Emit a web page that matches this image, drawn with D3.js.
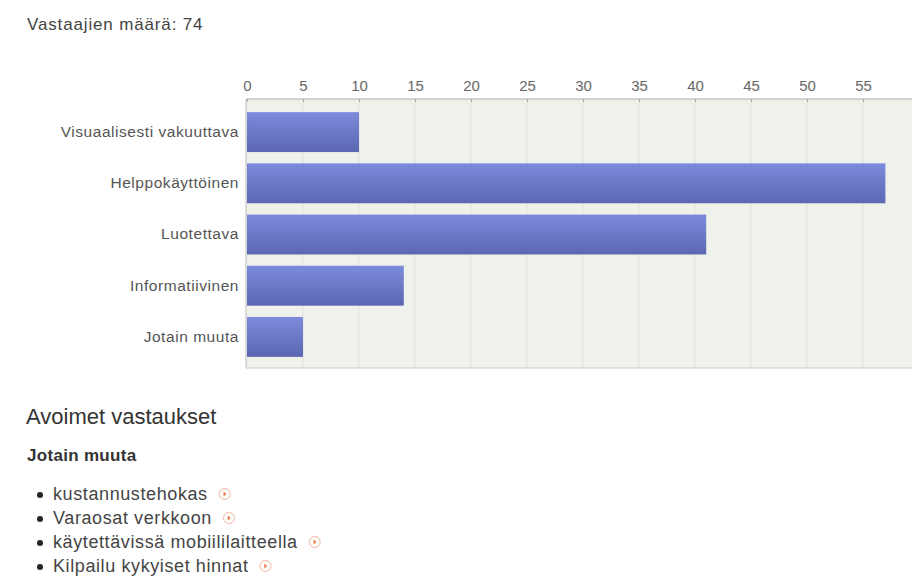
<!DOCTYPE html>
<html>
<head>
<meta charset="utf-8">
<script src="https://cdn.jsdelivr.net/npm/d3@7"></script>
<style>
  html, body { margin: 0; padding: 0; background: #fff; }
  svg { display: block; font-family: Arial, "Liberation Sans", sans-serif; }
</style>
</head>
<body>
<svg id="chart" width="912" height="577"></svg>
<script>
const title = "Vastaajien määrä: 74";
const categories = ["Visuaalisesti vakuuttava", "Helppokäyttöinen", "Luotettava", "Informatiivinen", "Jotain muuta"];
const values = [10, 57, 41, 14, 5];
const tickValues = [0, 5, 10, 15, 20, 25, 30, 35, 40, 45, 50, 55];
const sectionTitle = "Avoimet vastaukset";
const subTitle = "Jotain muuta";
const openAnswers = ["kustannustehokas", "Varaosat verkkoon", "käytettävissä mobiililaitteella", "Kilpailu kykyiset hinnat"];

const svg = d3.select("#chart");

// gradient for bars
const defs = svg.append("defs");
const grad = defs.append("linearGradient").attr("id", "barGrad")
  .attr("x1", 0).attr("y1", 0).attr("x2", 0).attr("y2", 1);
grad.append("stop").attr("offset", "0%").attr("stop-color", "#7d8bdc");
grad.append("stop").attr("offset", "100%").attr("stop-color", "#5b67b1");

// title
svg.append("text").attr("x", 27).attr("y", 30)
  .attr("font-size", 17).attr("letter-spacing", 0.85).attr("fill", "#444").text(title);

const plotLeft = 246, plotRight = 912, plotTop = 99, plotBottom = 368;
const x = d3.scaleLinear().domain([0, 55]).range([247, 863]);
const y = d3.scaleBand().domain(categories).range([106.5, 362.5]).paddingInner(0.22).paddingOuter(0.11);

// plot background
svg.append("rect").attr("x", plotLeft).attr("y", plotTop)
  .attr("width", plotRight - plotLeft).attr("height", plotBottom - plotTop)
  .attr("fill", "#eff1eb");

// gridlines
svg.append("g").selectAll("line").data(tickValues.filter(d => d > 0)).join("line")
  .attr("x1", d => x(d)).attr("x2", d => x(d))
  .attr("y1", plotTop).attr("y2", plotBottom)
  .attr("stroke", "#dfe2da").attr("stroke-width", 1);

// bars
svg.append("g").selectAll("rect").data(values).join("rect")
  .attr("x", x(0))
  .attr("y", (d, i) => y(categories[i]))
  .attr("width", d => x(d) - x(0))
  .attr("height", y.bandwidth())
  .attr("fill", "url(#barGrad)");

// top axis
const xAxis = d3.axisTop(x).tickValues(tickValues).tickSize(-3).tickPadding(8);
const gx = svg.append("g").attr("transform", `translate(0,${plotTop})`).call(xAxis);
gx.select(".domain").attr("stroke", "#aaa").attr("d", `M${plotLeft},0H${plotRight}`);
gx.selectAll(".tick line").attr("stroke", "#aaa");
gx.selectAll(".tick text").attr("font-size", 15).attr("fill", "#666")
  .attr("font-family", "Arial, 'Liberation Sans', sans-serif");

// left axis
const yAxis = d3.axisLeft(y).tickSize(0).tickPadding(7);
const gy = svg.append("g").attr("transform", `translate(${plotLeft},0)`).call(yAxis);
gy.select(".domain").attr("stroke", "#bbb").attr("d", `M0,${plotTop}V${plotBottom}`);
gy.selectAll(".tick text").attr("font-size", 15.5).attr("letter-spacing", 0.55).attr("fill", "#555")
  .attr("font-family", "Arial, 'Liberation Sans', sans-serif");

// bottom border
svg.append("line").attr("x1", plotLeft).attr("x2", plotRight)
  .attr("y1", plotBottom).attr("y2", plotBottom).attr("stroke", "#c8cac4");

// open answers section
svg.append("text").attr("x", 26).attr("y", 424)
  .attr("font-size", 22).attr("fill", "#333").text(sectionTitle);
svg.append("text").attr("x", 27).attr("y", 461)
  .attr("font-size", 17).attr("font-weight", "bold").attr("letter-spacing", 0.3).attr("fill", "#333").text(subTitle);

const items = svg.append("g").selectAll("g").data(openAnswers).join("g")
  .attr("transform", (d, i) => `translate(0,${500 + i * 24})`);
items.append("circle").attr("cx", 40).attr("cy", -5).attr("r", 3).attr("fill", "#222");
items.append("text").attr("x", 53).attr("y", 0)
  .attr("font-size", 18).attr("letter-spacing", 0.6).attr("fill", "#444").text(d => d);
items.each(function() {
  const g = d3.select(this);
  const w = g.select("text").node().getComputedTextLength();
  const cx = 53 + w + 17;
  g.append("circle").attr("cx", cx).attr("cy", -6).attr("r", 5.5)
    .attr("fill", "#fff").attr("stroke", "#f2c9b8").attr("stroke-width", 1.3);
  g.append("path").attr("d", `M${cx - 1.2},-8.5L${cx + 1.8},-6L${cx - 1.2},-3.5Z`).attr("fill", "#e8784a");
});
</script>
</body>
</html>
